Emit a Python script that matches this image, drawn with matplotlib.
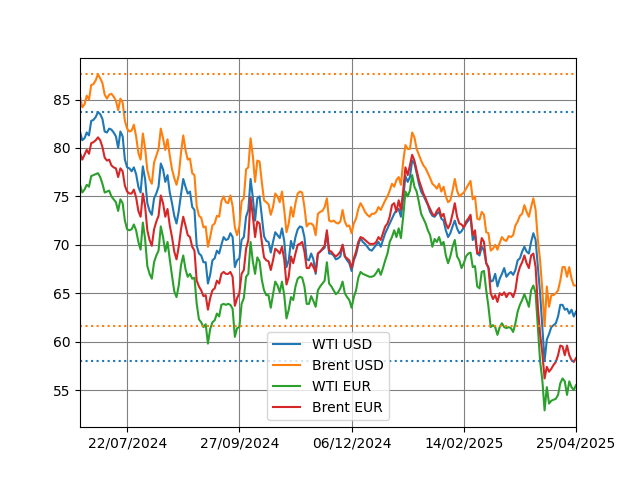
import matplotlib
matplotlib.use("Agg")
import matplotlib.pyplot as plt
import numpy as np

# daily closes (trading days)
wti_usd = [
    81.7, 80.8, 81.0, 81.6, 81.3, 82.8, 82.9, 83.2, 83.7, 83.5,
    83.0, 81.7, 81.6, 82.0, 81.9, 81.6, 81.2, 80.0, 81.7, 81.2,
    78.8, 78.0, 77.9, 77.6, 78.0, 77.3, 76.0, 75.4, 78.1, 76.8,
    74.3, 73.5, 73.1, 74.8, 75.3, 76.0, 78.4, 77.8, 76.5, 77.2,
    75.4, 74.3, 73.0, 72.2, 73.5, 75.2, 76.8, 76.0, 75.3, 75.5,
    73.9, 73.6, 69.9, 69.1, 68.9, 68.2, 68.2, 66.0, 66.9, 68.4,
    68.6, 69.4, 69.1, 70.0, 70.8, 70.5, 70.6, 71.2, 70.8, 67.7,
    68.4, 68.6, 70.5, 70.8, 72.9, 73.6, 76.8, 74.9, 72.5, 74.8,
    75.0, 72.9, 70.9, 70.4, 70.3, 69.2, 70.3, 71.3, 71.0, 70.7,
    71.7, 70.4, 67.7, 68.4, 70.4, 69.6, 70.8, 71.6, 71.9, 71.8,
    70.8, 68.5, 68.4, 69.1, 68.5, 67.0, 69.1, 69.3, 69.5, 69.7,
    71.2, 69.1, 69.1, 68.9, 68.5, 68.6, 68.8, 70.0, 68.8, 68.4,
    68.1, 67.3, 68.4, 69.0, 70.0, 70.7, 70.3, 70.1, 69.8, 69.5,
    69.4, 69.7, 70.0, 70.3, 69.8, 70.5, 71.2, 71.7, 72.2, 72.7,
    73.2, 73.6, 73.7, 72.9, 74.8, 77.1, 76.5, 77.0, 78.7, 78.4,
    77.4, 76.3, 75.5, 75.1, 74.6, 74.1, 73.4, 73.0, 72.9, 73.2,
    73.4, 72.7, 72.5, 71.5, 70.8, 71.2, 71.9, 72.5, 71.7, 71.2,
    71.4, 71.8, 72.2, 72.5, 72.9, 70.5, 71.0, 69.1, 68.9, 69.8,
    69.4, 68.1, 67.7, 66.2, 66.3, 67.0, 65.7, 66.5, 67.0, 67.6,
    66.7, 67.0, 67.2, 66.9, 67.4, 68.4, 68.6, 69.3, 69.8, 69.3,
    69.1, 70.3, 71.2, 70.5, 67.7, 65.0, 61.5, 58.0, 60.2, 60.8,
    61.5, 61.7, 61.9, 62.6, 63.8, 63.8, 63.3, 63.4, 62.9, 63.3,
    62.6, 63.1,
]
brent_usd = [
    85.3, 84.2, 84.5, 85.4, 85.0, 86.5, 86.6, 87.0, 87.6, 87.2,
    86.7, 85.5, 85.1, 85.5, 85.6, 85.3, 84.9, 83.9, 85.1, 84.7,
    82.8, 82.0, 81.7, 81.8, 82.4, 81.2, 79.5, 78.8, 81.5, 80.0,
    77.7, 76.8, 76.3, 78.5, 79.2, 79.9, 82.0, 81.0, 79.8, 80.9,
    79.2, 77.8, 76.9, 76.2, 77.2, 79.5, 81.3, 79.8, 78.8, 78.9,
    77.4, 77.2, 74.0, 73.0, 72.8, 71.8, 71.9, 69.8, 70.8, 72.0,
    72.2, 73.0, 72.9, 74.5, 75.0, 74.4, 74.3, 75.1, 74.0, 71.8,
    71.0, 71.9, 74.5, 74.8, 77.8, 78.0, 81.0, 79.2, 76.5, 78.7,
    78.6, 76.5, 74.6, 74.4, 74.2, 73.1, 73.9, 75.3, 75.0, 74.4,
    75.5, 73.6, 71.3, 72.2, 73.9, 72.9, 74.3, 75.3, 75.5, 75.4,
    73.9, 71.9, 72.2, 72.2, 72.0, 71.0, 73.2, 73.4, 73.5, 73.9,
    74.8, 72.5, 72.4, 72.5, 72.3, 72.2, 72.4, 73.6, 72.4, 71.9,
    72.0, 71.2, 72.2, 72.7, 73.7, 74.3, 73.9, 73.4, 73.1, 72.9,
    73.2, 73.2, 73.4, 73.9, 73.6, 74.1, 74.6, 75.0, 75.6, 76.3,
    76.0, 76.7, 77.0, 76.2, 78.6, 80.3, 79.9, 79.9, 81.6, 81.1,
    79.9, 79.3, 78.7, 78.2, 77.9, 77.4, 76.9, 76.3, 76.1, 75.8,
    76.3, 75.5, 76.0, 75.0, 74.4, 74.6, 75.6, 76.8, 75.6, 75.0,
    75.2, 75.4, 75.8, 76.2, 76.6, 74.7, 75.0, 72.7, 72.6, 73.4,
    73.1, 71.3, 71.2, 69.4, 69.6, 70.0, 69.5, 70.2, 70.8, 70.5,
    70.4, 70.9, 70.8, 71.0, 72.0, 72.4, 73.0, 73.2, 74.1, 73.4,
    72.9, 73.9, 74.8, 73.6, 70.5, 68.4, 65.3, 61.6, 65.7, 63.6,
    64.8, 64.8, 65.0, 65.3, 66.3, 67.7, 67.7, 66.7, 67.7, 66.5,
    65.8, 65.8,
]
wti_eur = [
    76.2, 75.4, 75.7, 76.2, 76.0, 77.1, 77.2, 77.3, 77.4, 77.0,
    76.3, 75.4, 75.5, 75.6, 75.0, 74.7, 74.4, 73.5, 74.7, 74.3,
    72.5, 71.6, 71.5, 71.6, 72.1, 71.5, 70.3, 69.5, 72.3, 70.6,
    67.8, 67.0, 66.5, 68.2, 68.9, 69.4, 71.9, 70.8, 69.3, 70.3,
    68.5, 66.8, 65.2, 64.6, 65.8, 67.9, 68.9, 67.5, 66.7, 67.0,
    66.5, 66.6, 63.9, 62.3, 62.0, 61.5, 61.8, 59.8, 61.3, 62.0,
    62.2, 62.9, 62.6, 63.8, 63.9, 63.8, 63.9, 63.8, 63.4, 60.5,
    61.4, 61.5, 63.9, 64.5, 66.7, 67.0, 70.3, 68.3, 67.0, 68.7,
    68.3, 66.4, 65.3, 64.8, 64.8, 63.5, 64.9, 66.2, 65.8, 65.1,
    66.2, 64.8, 62.4, 63.3, 64.6, 64.3, 65.7, 66.5, 66.7, 66.6,
    65.7, 63.9, 63.9, 64.7, 64.2, 63.6, 65.3, 65.7, 66.0, 66.3,
    68.2, 66.0, 65.7, 65.3, 64.9, 65.1, 65.5, 66.2, 65.0, 64.6,
    64.3, 63.5, 64.6, 65.3, 66.6, 67.2, 67.0, 66.9, 66.8, 66.7,
    66.7, 66.8, 67.1, 67.5, 66.9, 67.6, 68.4, 69.1, 70.3, 70.8,
    71.5, 70.8, 71.7, 70.7, 72.9, 75.5, 75.0, 75.6, 77.2, 76.0,
    75.5, 74.4, 73.2, 72.7, 72.2, 71.5, 71.0, 69.8, 70.6, 70.3,
    70.8, 70.0, 70.3, 68.9, 68.1, 68.8, 69.8, 70.5, 68.8, 68.4,
    67.6, 68.1, 68.8, 69.1, 69.2, 67.7, 67.8, 65.7, 65.5, 67.2,
    67.3, 65.3, 63.6, 61.5, 61.7, 61.5, 60.7, 61.5, 61.9, 61.5,
    61.4, 61.5, 61.4, 61.0, 61.9, 63.1, 63.8, 64.3, 64.9, 64.3,
    63.6, 65.3, 65.8, 65.0, 61.5, 58.0, 56.0, 52.9, 55.3, 53.6,
    53.9, 54.0, 54.1, 54.5, 55.7, 56.2, 55.9, 54.5, 55.9, 55.3,
    55.0, 55.5,
]
brent_eur = [
    79.5, 78.8, 79.3, 79.8, 79.4, 80.5, 80.6, 80.8, 81.1, 80.8,
    80.1, 79.0, 78.7, 78.8, 78.2, 78.0, 77.9, 77.0, 77.9, 77.6,
    76.1, 75.5, 75.3, 75.3, 75.7, 74.9, 73.5, 72.9, 75.3, 74.0,
    71.5, 70.5, 69.9, 71.6, 72.4, 73.0, 75.1, 74.3, 72.9, 73.7,
    72.0, 70.8, 69.3, 68.5, 69.8, 71.6, 72.9, 72.0, 71.0, 70.8,
    69.8, 69.4, 66.3, 65.7, 65.3, 64.7, 64.8, 63.3, 64.5, 65.3,
    65.5, 66.3, 66.0, 67.0, 67.2, 67.0, 67.0, 67.2, 66.7, 63.7,
    64.5, 65.0, 67.0, 67.4, 69.6, 70.5, 74.9, 73.0, 70.8, 72.4,
    72.2, 70.3, 68.7, 68.4, 68.3, 67.4, 68.4, 69.6, 69.4, 69.1,
    69.8, 68.5, 65.9, 66.7, 68.8, 68.1, 69.1, 70.0, 70.1, 70.3,
    69.3, 67.6, 67.6, 68.1, 67.7, 67.2, 69.1, 69.3, 69.6, 69.9,
    71.5, 69.4, 69.3, 69.0, 68.8, 69.0, 69.3, 70.0, 68.8, 68.6,
    68.4, 67.6, 68.6, 69.3, 70.3, 70.8, 70.7, 70.5, 70.3, 70.1,
    70.1, 70.1, 70.3, 70.8, 70.5, 71.2, 71.9, 72.2, 72.9, 74.1,
    74.3, 73.4, 74.6, 73.6, 75.6, 78.0, 77.2, 78.2, 79.3, 78.7,
    77.7, 76.7, 76.0, 75.3, 74.8, 74.2, 73.7, 73.2, 73.0, 73.5,
    73.8, 72.9, 73.2, 72.2, 71.7, 72.2, 73.2, 74.3, 72.9, 72.2,
    72.1, 71.8, 72.4, 72.7, 73.1, 71.0, 71.5, 69.1, 69.2, 70.7,
    70.3, 68.1, 67.6, 65.0, 64.4, 64.8, 64.1, 65.0, 64.8, 65.1,
    64.6, 65.0, 65.0, 64.6, 65.3, 66.9, 67.7, 68.2, 68.9, 68.1,
    67.6, 68.9, 69.1, 67.7, 63.6, 60.8, 58.8, 56.2, 57.4, 56.9,
    57.2, 57.6, 57.9, 58.6, 59.6, 59.5, 58.6, 59.6, 58.6, 58.1,
    57.9, 58.3,
]
tick_labels = ["22/07/2024", "27/09/2024", "06/12/2024", "14/02/2025", "25/04/2025"]

n = len(wti_usd)
x = np.arange(n)

fig, ax = plt.subplots(figsize=(6.4, 4.8), dpi=100)
ax.plot(x, wti_usd, label="WTI USD")
ax.plot(x, brent_usd, label="Brent USD")
ax.plot(x, wti_eur, label="WTI EUR")
ax.plot(x, brent_eur, label="Brent EUR")

# max / min of the USD series
ax.axhline(max(wti_usd), color="C0", ls=":")
ax.axhline(min(wti_usd), color="C0", ls=":")
ax.axhline(max(brent_usd), color="C1", ls=":")
ax.axhline(min(brent_usd), color="C1", ls=":")

ax.set_xlim(0, n - 1)
ticks = [n - 1 - 50 * k for k in range(len(tick_labels))][::-1]
ax.set_xticks(ticks)
ax.set_xticklabels(tick_labels)
ax.grid(True, color="gray")
ax.legend(loc="lower center")

fig.savefig("out.png")
